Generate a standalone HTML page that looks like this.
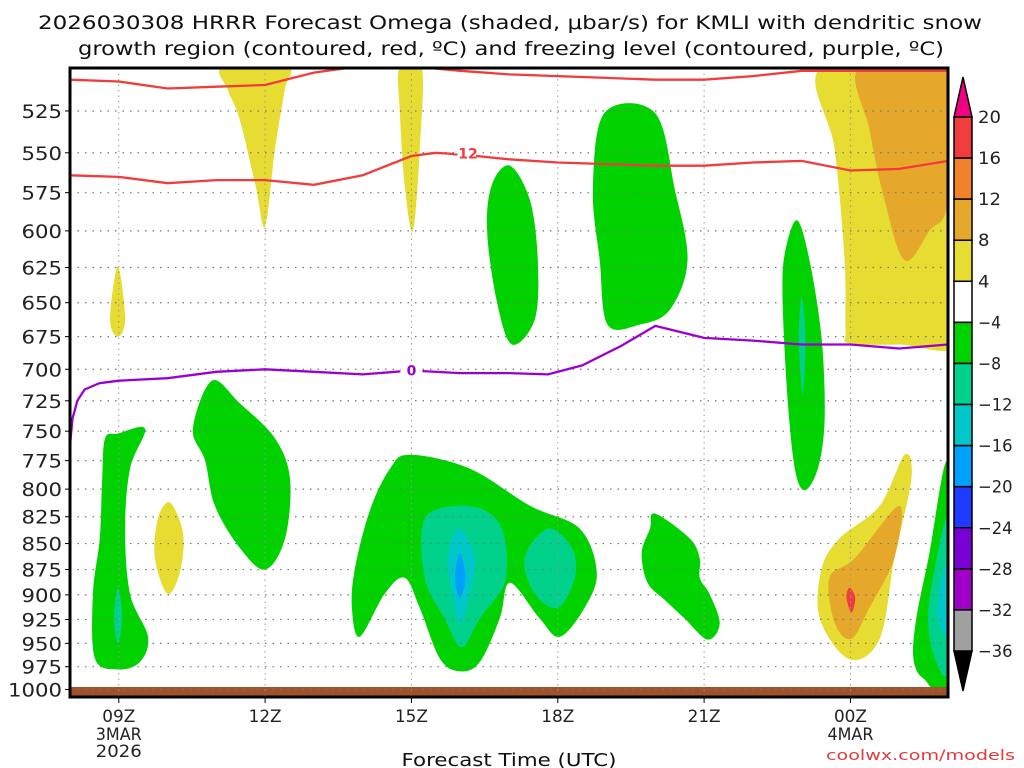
<!DOCTYPE html>
<html><head><meta charset="utf-8"><style>
html,body{margin:0;padding:0;background:#fff;}
svg{display:block;font-family:"DejaVu Sans","Liberation Sans",sans-serif;}
</style></head><body>
<svg id="chart" width="1024" height="768" viewBox="0 0 1024 768" xmlns="http://www.w3.org/2000/svg">
<text x="510" y="29" text-anchor="middle" font-size="19" fill="#111" textLength="944" lengthAdjust="spacingAndGlyphs">2026030308 HRRR Forecast Omega (shaded, μbar/s) for KMLI with dendritic snow</text>
<text x="511" y="55" text-anchor="middle" font-size="19" fill="#111" textLength="866" lengthAdjust="spacingAndGlyphs">growth region (contoured, red, ºC) and freezing level (contoured, purple, ºC)</text>
<g id="plot"></g>
<g id="axes"></g>
<g id="cbar"></g>
<text x="509" y="766" text-anchor="middle" font-size="18" fill="#111" textLength="215" lengthAdjust="spacingAndGlyphs">Forecast Time (UTC)</text>
<text x="1015" y="760" text-anchor="end" font-size="14" fill="#e03c3c" textLength="189" lengthAdjust="spacingAndGlyphs">coolwx.com/models</text>
</svg>
<script>
// ---- data ----
const pressureTicks=[525,550,575,600,625,650,675,700,725,750,775,800,825,850,875,900,925,950,975,1000];
const timeTicks=[9,12,15,18,21,24];
const timeLabels=["09Z","12Z","15Z","18Z","21Z","00Z"];
const cbarLevels=[20,16,12,8,4,-4,-8,-12,-16,-20,-24,-28,-32,-36];
const cbarColors=["#f03c3c","#f0822a","#e6a82a","#e6dc32","#ffffff","#00d200","#00d28c","#00c8c8","#00a0ff","#1e3cff","#7800d2","#a000c8","#a0a0a0"];
const redTopHours=[8,9,10,11,12,13,13.8,15.2,16,17,18,19,20,21,22,23,24,25,26];
const redTopP=[507,508,512,511,510,503,500,500,502,504,505,506,507,507,505,502,502,502,502];
const red12Hours=[8,9,10,11,12,13,14,15,15.5,16,17,18,19,20,21,22,23,24,25,26];
const red12P=[564,565,569,567,567,570,564,552,550,551,554,556,557,558,558,556,555,561,560,555];
const frzHours=[8,8.05,8.15,8.3,8.6,9,10,11,12,13,14,15,16,17,17.8,18.5,19.3,20,21,22,23,24,25,26];
const frzP=[762,740,725,716,711,709,707,702,700,702,704,701,703,703,704,697,682,667,676,678,681,681,684,681];
const shadeHours=[
 [11.13,12.45,12.4,12.2,12.0,11.8,11.48,11.24],
 [14.76,15.21,15.17,15.03,14.86,14.76],
 [8.98,9.13,8.98,8.82],
 [10.05,10.32,10.25,10.0,9.74,9.8],
 [23.41,26,26.3,26.3,25.0,23.98,23.9,23.88,23.68],
 [24.19,26,26,25.62,25.11,24.7,24.39],
 [25.11,25.25,24.9,24.6,23.98,23.37,23.41,23.78,24.6],
 [25.0,24.9,24.39,24.02,23.68,23.57,24.09],
 [23.98,24.1,24.02,23.92],
 [8.72,8.98,9.54,9.23,9.13,9.23,9.6,9.43,8.98,8.51,8.47,8.61,8.66],
 [8.98,9.07,8.98,8.9],
 [10.91,11.48,12.2,12.51,12.41,12.0,11.48,10.97,10.77,10.52],
 [14.97,16.2,17.43,18.45,18.8,18.55,18.04,17.63,17.02,16.81,16.4,15.99,15.58,15.17,14.86,14.45,13.94,13.78,13.84,14.15,14.56],
 [15.99,16.61,16.91,16.91,16.4,16.03,15.68,15.27,15.27],
 [15.99,16.3,16.2,15.99,15.79,15.75],
 [15.99,16.11,15.99,15.89],
 [17.8,18.29,18.35,18.0,17.53,17.32],
 [17.02,17.43,17.59,17.53,17.06,16.75,16.55,16.65],
 [18.96,19.99,20.4,20.66,20.3,19.68,19.02,18.86,18.72],
 [19.99,20.7,20.91,20.91,21.11,21.32,21.07,20.6,20.19,19.84,19.72,19.89],
 [22.9,23.16,23.41,23.47,23.33,23.06,22.86,22.71,22.61,22.65],
 [23.0,23.08,23.02,22.94],
 [26,26,25.5,25.29,25.35,25.6],
 [26,26,25.73,25.59,25.73],
 [26,26,25.79,25.83]
];
const shadePress=[
 [500,500,513,548,597,570,530,513],
 [500,500,548,600,570,524],
 [624,662,675,662],
 [812,841,878,899,864,827],
 [500,500,600,679,681,680,670,620,548],
 [500,500,580,600,620,580,536],
 [770,791,864,945,967,924,874,845,815],
 [815,864,913,945,929,883,864],
 [893,903,918,903],
 [756,752,748,782,836,899,943,970,978,966,899,845,791],
 [893,923,950,923],
 [709,727,756,791,845,875,854,815,775,748],
 [770,782,815,836,878,913,943,924,888,924,970,980,966,913,883,899,943,913,874,819,782],
 [815,822,845,888,924,954,924,883,827],
 [836,864,899,929,888,859],
 [859,883,903,883],
 [836,854,883,913,899,864],
 [558,580,620,662,681,649,600,570],
 [526,526,573,620,655,666,666,620,573],
 [822,845,864,883,899,929,946,924,905,888,859,836],
 [593,620,677,741,782,801,782,723,649,616],
 [646,677,720,677],
 [778,990,988,966,924,864],
 [829,975,966,924,874],
 [869,940,924,893]
];
const shadeLevel=[3,3,3,3,3,2,3,2,0,5,6,5,5,6,7,8,6,5,5,5,5,6,5,6,7];

// ---- axes ----
const X0=70,X1=948,Y0=68,Y1=697,H0=8,H1=26;
const xs=h=>X0+(h-H0)*(X1-X0)/(H1-H0);
const ys=p=>111+(Math.log(p)-Math.log(525))*897.7;
const NS="http://www.w3.org/2000/svg";
function mk(tag,attrs,parent){const e=document.createElementNS(NS,tag);for(const k in attrs)e.setAttribute(k,attrs[k]);parent.appendChild(e);return e;}
const plot=document.getElementById('plot'),axes=document.getElementById('axes'),cbar=document.getElementById('cbar');
mk('defs',{},plot).innerHTML='<clipPath id="clip"><rect x="70" y="68" width="878" height="629"/></clipPath>';
const g=mk('g',{'clip-path':'url(#clip)'},plot);
function smooth(pts){let d='';const n=pts.length;
 for(let i=0;i<n;i++){const p0=pts[(i-1+n)%n],p1=pts[i],p2=pts[(i+1)%n],p3=pts[(i+2)%n];
  if(i===0)d+='M'+p1[0].toFixed(1)+','+p1[1].toFixed(1);
  const c1=[p1[0]+(p2[0]-p0[0])/6,p1[1]+(p2[1]-p0[1])/6],c2=[p2[0]-(p3[0]-p1[0])/6,p2[1]-(p3[1]-p1[1])/6];
  d+='C'+c1[0].toFixed(1)+','+c1[1].toFixed(1)+' '+c2[0].toFixed(1)+','+c2[1].toFixed(1)+' '+p2[0].toFixed(1)+','+p2[1].toFixed(1);}
 return d+'Z';}
for(let i=0;i<shadeHours.length;i++){
 const pts=shadeHours[i].map((h,j)=>[xs(h),ys(shadePress[i][j])]);
 const e=mk('path',{d:smooth(pts),fill:cbarColors[shadeLevel[i]]},g);
 
 
}
const gr=mk('rect',{x:X0,y:687,width:X1-X0,height:10,fill:'#a0522d'},g);


pressureTicks.forEach(p=>{const e=mk('line',{x1:X0,x2:X1,y1:ys(p),y2:ys(p),stroke:'#777','stroke-width':1.2,'stroke-dasharray':'1.5,6'},g);
 
 });
timeTicks.forEach(h=>{const e=mk('line',{x1:xs(h),x2:xs(h),y1:Y0,y2:Y1,stroke:'#999','stroke-width':1,'stroke-dasharray':'1.5,4'},g);
 
 });
function line(hs,ps,col,name){const e=mk('polyline',{points:hs.map((h,i)=>xs(h).toFixed(1)+','+ys(ps[i]).toFixed(1)).join(' '),fill:'none',stroke:col,'stroke-width':2.3},g);
 
 }
line(redTopHours,redTopP,'#f03c3c','dgz-upper-contour');
line(red12Hours,red12P,'#f03c3c','dgz-minus12-contour');
line(frzHours,frzP,'#9b00d2','freezing-level-contour');
function clabel(t,h,p,col,name){const x=xs(h),y=ys(p);mk('rect',{x:x-11,y:y-8,width:22,height:16,fill:'#fff'},g);
 const e=mk('text',{x:x,y:y+5,'text-anchor':'middle','font-size':14,'font-weight':'bold',fill:col},g);e.textContent=t;
 
 }
clabel('-12',16.1,550.5,'#f03c3c','contour-label-minus12');
clabel('0',15,701,'#9b00d2','contour-label-0');
mk('rect',{x:X0,y:Y0,width:X1-X0,height:Y1-Y0,fill:'none',stroke:'#000','stroke-width':3},plot);
function txt(parent,s,x,y,size,anchor,perChar){const e=mk('text',{x:x,y:y,'text-anchor':anchor,'font-size':size,fill:'#222',textLength:perChar*s.length,lengthAdjust:'spacingAndGlyphs'},parent);e.textContent=s;return e;}
pressureTicks.forEach(p=>{mk('line',{x1:X0-5,x2:X0,y1:ys(p),y2:ys(p),stroke:'#000'},axes);
 const e=txt(axes,String(p),62,ys(p)+7,19,'end',13.5);
 
 });
timeTicks.forEach((h,i)=>{mk('line',{x1:xs(h),x2:xs(h),y1:Y1,y2:Y1+6,stroke:'#000'},axes);
 const e=txt(axes,timeLabels[i],xs(h),722,17,'middle',11);
 
 });
[['3MAR',9,740],['2026',9,757],['4MAR',24,740]].forEach(a=>{const e=txt(axes,a[0],xs(a[1]),a[2],17,'middle',11.5);
 
 });
const CX=954,CW=18,CT=117,CB=651,step=(CB-CT)/(cbarLevels.length-1);
mk('polygon',{points:`${CX},${CT} ${CX+CW},${CT} ${CX+CW/2},${CT-40}`,fill:'#f00082',stroke:'#000','stroke-width':1.5},cbar);
mk('polygon',{points:`${CX},${CB} ${CX+CW},${CB} ${CX+CW/2},${CB+40}`,fill:'#000',stroke:'#000','stroke-width':1.5},cbar);
cbarColors.forEach((c,i)=>{const e=mk('rect',{x:CX,y:CT+i*step,width:CW,height:step,fill:c,stroke:'#000','stroke-width':1.5},cbar);
 
 });
cbarLevels.forEach((v,i)=>{const s=v<0?'\u2212'+(-v):String(v);const e=txt(cbar,s,978,CT+i*step+6,17,'start',11.5);
 
 });
</script>
</body></html>
